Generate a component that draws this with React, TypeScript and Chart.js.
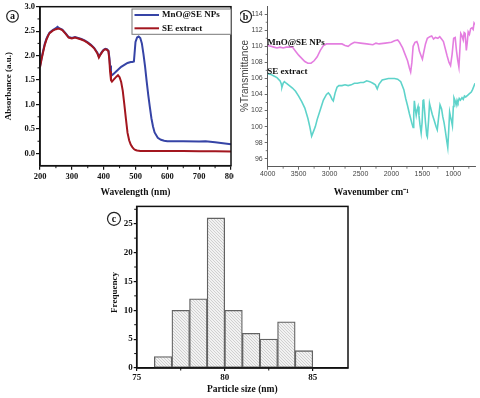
import React, { useEffect, useRef } from 'react';
import { Chart, registerables } from 'chart.js';
Chart.register(...registerables);

// ---------- Panel (a): UV-Vis absorbance ----------
const seriesNames = ['MnO@SE NPs', 'SE extract'];
const uvWavelength = [200, 205, 210, 215, 220, 225, 230, 240, 250, 255, 260, 270, 280, 290, 300, 310, 320, 330, 340, 350, 360, 370, 380, 385, 390, 395, 400, 405, 410, 415, 418, 420, 423, 426, 430, 440, 445, 450, 455, 460, 465, 470, 475, 480, 485, 490, 495, 500, 505, 510, 515, 520, 525, 530, 535, 540, 545, 550, 555, 560, 570, 580, 590, 600, 650, 700, 720, 750, 800];
const uvMnO = [1.78, 1.95, 2.10, 2.24, 2.34, 2.41, 2.47, 2.52, 2.56, 2.59, 2.56, 2.53, 2.46, 2.38, 2.36, 2.38, 2.36, 2.34, 2.31, 2.27, 2.22, 2.16, 2.06, 1.98, 2.03, 2.08, 2.12, 2.14, 2.13, 2.10, 1.96, 1.80, 1.65, 1.60, 1.62, 1.68, 1.71, 1.74, 1.77, 1.79, 1.81, 1.83, 1.85, 1.86, 1.87, 1.87, 1.88, 2.28, 2.37, 2.39, 2.36, 2.25, 2.03, 1.78, 1.48, 1.20, 0.95, 0.72, 0.55, 0.43, 0.32, 0.28, 0.26, 0.25, 0.25, 0.245, 0.25, 0.23, 0.19];
const uvSE = [1.76, 1.93, 2.08, 2.22, 2.32, 2.40, 2.46, 2.51, 2.54, 2.55, 2.55, 2.52, 2.45, 2.37, 2.35, 2.37, 2.35, 2.33, 2.30, 2.26, 2.21, 2.15, 2.05, 1.96, 2.02, 2.07, 2.11, 2.13, 2.12, 2.09, 1.90, 1.68, 1.50, 1.47, 1.50, 1.57, 1.60, 1.56, 1.46, 1.28, 1.00, 0.70, 0.42, 0.27, 0.18, 0.13, 0.09, 0.07, 0.06, 0.055, 0.05, 0.05, 0.05, 0.05, 0.05, 0.05, 0.05, 0.05, 0.05, 0.05, 0.05, 0.05, 0.05, 0.05, 0.048, 0.045, 0.045, 0.043, 0.04];
const uvXTicks = [200, 300, 400, 500, 600, 700, 800];
const uvYTicks = [0, 0.5, 1, 1.5, 2, 2.5, 3];
const uvXMinor = [250, 350, 450, 550, 650, 750];
const uvYMinor = [0.25, 0.75, 1.25, 1.75, 2.25, 2.75];

// ---------- Panel (b): FTIR ----------
const ftirMnOWavenumber = [4000, 3950, 3900, 3850, 3800, 3750, 3700, 3650, 3600, 3550, 3500, 3450, 3400, 3350, 3300, 3250, 3200, 3150, 3100, 3050, 3000, 2900, 2800, 2750, 2700, 2650, 2600, 2500, 2400, 2300, 2250, 2200, 2100, 2000, 1950, 1900, 1870, 1820, 1780, 1740, 1710, 1690, 1670, 1650, 1620, 1590, 1570, 1550, 1520, 1500, 1480, 1450, 1420, 1380, 1350, 1320, 1290, 1250, 1220, 1190, 1160, 1130, 1100, 1070, 1045, 1020, 995, 970, 950, 930, 910, 895, 880, 860, 840, 825, 810, 790, 775, 760, 740, 720, 700, 680, 665, 650];
const ftirMnOT = [110.1, 110.0, 109.9, 109.8, 109.9, 109.8, 109.9, 109.9, 109.9, 109.4, 108.9, 108.5, 108.1, 107.9, 107.9, 108.2, 108.7, 109.5, 110.1, 110.3, 110.3, 110.3, 110.3, 110.1, 110.0, 110.3, 110.5, 110.4, 110.3, 110.2, 110.4, 110.3, 110.4, 110.5, 110.7, 110.8, 110.5, 109.8, 109.0, 108.2, 107.3, 106.8, 108.0, 110.0, 110.5, 110.6, 110.2, 109.4, 108.8, 108.4, 109.2, 110.3, 111.0, 111.2, 111.3, 110.9, 111.1, 111.0, 111.2, 110.9, 110.6, 109.7, 108.8, 108.0, 107.6, 109.0, 111.0, 111.1, 109.5, 108.3, 107.4, 109.5, 111.6, 111.3, 110.8, 111.7, 111.6, 109.5, 110.5, 111.8, 111.5, 112.2, 112.3, 112.1, 112.9, 112.7];
const ftirSEWavenumber = [4000, 3950, 3900, 3850, 3800, 3780, 3770, 3750, 3730, 3700, 3650, 3600, 3550, 3500, 3450, 3400, 3350, 3320, 3290, 3260, 3230, 3200, 3150, 3100, 3050, 3020, 2990, 2960, 2940, 2910, 2880, 2850, 2800, 2750, 2700, 2650, 2600, 2550, 2500, 2450, 2400, 2350, 2300, 2260, 2230, 2200, 2150, 2100, 2050, 2000, 1950, 1900, 1850, 1800, 1770, 1740, 1710, 1690, 1670, 1650, 1640, 1630, 1615, 1600, 1585, 1570, 1555, 1540, 1520, 1505, 1490, 1480, 1465, 1450, 1430, 1420, 1400, 1385, 1370, 1340, 1310, 1280, 1260, 1240, 1215, 1190, 1170, 1150, 1130, 1110, 1090, 1075, 1060, 1045, 1030, 1015, 1000, 990, 970, 955, 940, 925, 905, 885, 860, 840, 820, 800, 770, 740, 710, 690, 670, 650];
const ftirSET = [106.6, 106.5, 106.3, 106.1, 105.7, 105.3, 104.9, 105.4, 105.6, 105.4, 105.1, 104.8, 104.4, 103.8, 103.1, 102.3, 101.0, 100.0, 98.8, 99.4, 100.0, 100.9, 102.1, 103.3, 104.0, 104.2, 103.9, 103.4, 103.2, 104.2, 104.9, 105.1, 105.1, 105.2, 105.1, 105.2, 105.4, 105.4, 105.5, 105.5, 105.7, 105.6, 105.4, 105.2, 104.7, 105.3, 105.8, 105.9, 106.0, 106.0, 106.0, 105.9, 105.6, 104.6, 103.5, 102.6, 101.6, 101.0, 100.4, 99.9, 101.5, 103.2, 102.2, 101.4, 102.1, 102.5, 101.4, 100.3, 99.2, 100.5, 103.2, 103.4, 102.0, 100.5, 98.9, 98.7, 100.8, 102.9, 102.4, 101.5, 100.8, 100.0, 99.6, 101.0, 102.7, 102.2, 101.2, 100.5, 99.5, 98.4, 97.4, 99.5, 101.8, 101.2, 100.7, 100.1, 102.5, 103.6, 103.2, 102.7, 103.3, 103.0, 103.5, 103.3, 103.6, 103.4, 103.8, 103.7, 103.9, 104.1, 104.3, 104.6, 105.0, 105.4];
const ftirXTicks = [4000, 3500, 3000, 2500, 2000, 1500, 1000];
const ftirYTicks = [96, 98, 100, 102, 104, 106, 108, 110, 112, 114];
const ftirXMinor = [3750, 3250, 2750, 2250, 1750, 1250, 750];
const ftirYMinor = [97, 99, 101, 103, 105, 107, 109, 111, 113];

// ---------- Panel (c): particle size histogram ----------
const binStart = [76, 77, 78, 79, 80, 81, 82, 83, 84];
const binCount = [2, 10, 12, 26, 10, 6, 5, 8, 3];
const histXTicks = [75, 80, 85];
const histYTicks = [0, 5, 10, 15, 20, 25];
const histXMinor = [77.5, 82.5];
const histYMinor = [2.5, 7.5, 12.5, 17.5, 22.5, 27.5];

const SERIF = '"Liberation Serif", "Times New Roman", serif';
const SANS = '"Liberation Sans", Arial, sans-serif';
const bold = (size: number) => ({ family: SERIF, weight: 'bold' as const, size });

const decorPlugin = {
  id: 'decor',
  afterDraw(chart: any, _args: any, opts: any) {
    const ctx = chart.ctx as CanvasRenderingContext2D;
    const a = chart.chartArea;
    ctx.save();
    if (opts.frame) {
      ctx.strokeStyle = opts.frame.color;
      ctx.lineWidth = opts.frame.width;
      ctx.strokeRect(a.left, a.top, a.right - a.left, a.bottom - a.top);
    }
    for (const m of opts.minor || []) {
      const s = chart.scales[m.axis];
      ctx.strokeStyle = m.color;
      ctx.lineWidth = m.width;
      for (const v of m.values) {
        const p = s.getPixelForValue(v);
        ctx.beginPath();
        if (m.axis === 'x') {
          ctx.moveTo(p, a.bottom);
          ctx.lineTo(p, a.bottom + m.len);
        } else {
          ctx.moveTo(a.left, p);
          ctx.lineTo(a.left - m.len, p);
        }
        ctx.stroke();
      }
    }
    if (opts.legend) {
      const L = opts.legend;
      const x0 = a.right - L.width;
      const y0 = a.top + L.top;
      ctx.fillStyle = '#fff';
      ctx.fillRect(x0, y0, L.width, L.height);
      ctx.strokeStyle = L.border;
      ctx.lineWidth = 1;
      ctx.strokeRect(x0, y0, L.width, L.height);
      ctx.font = `bold ${L.fontSize}px ${SERIF}`;
      ctx.textBaseline = 'middle';
      ctx.textAlign = 'left';
      chart.data.datasets.forEach((ds: any, i: number) => {
        const yy = y0 + L.rowTop + i * L.rowGap;
        ctx.strokeStyle = ds.borderColor;
        ctx.lineWidth = 2;
        ctx.beginPath();
        ctx.moveTo(x0 + 2.5, yy);
        ctx.lineTo(x0 + 27, yy);
        ctx.stroke();
        ctx.fillStyle = '#111';
        ctx.fillText(ds.label, x0 + 30, yy);
      });
    }
    if (opts.seriesText) {
      ctx.font = `bold 9px ${SERIF}`;
      ctx.textBaseline = 'middle';
      ctx.textAlign = 'left';
      ctx.fillStyle = '#111';
      for (const t of opts.seriesText) {
        const y = chart.scales.y.getPixelForValue(t.value);
        ctx.fillText(chart.data.datasets[t.dataset].label, a.left - 0.5, y);
      }
    }
    for (const t of opts.texts || []) {
      ctx.save();
      ctx.translate(t.x, t.y);
      ctx.rotate(t.rot || 0);
      ctx.font = t.font;
      ctx.fillStyle = t.color;
      ctx.textAlign = 'center';
      ctx.textBaseline = 'middle';
      ctx.fillText(t.text, 0, 0);
      ctx.restore();
    }
    if (opts.badge) {
      const b = opts.badge;
      ctx.beginPath();
      ctx.arc(b.x, b.y, b.r, 0, Math.PI * 2);
      ctx.strokeStyle = '#222';
      ctx.lineWidth = 1.2;
      ctx.stroke();
      ctx.font = `bold 10px ${SERIF}`;
      ctx.fillStyle = '#111';
      ctx.textAlign = 'center';
      ctx.textBaseline = 'middle';
      ctx.fillText(b.text, b.x, b.y + 0.5);
    }
    ctx.restore();
  },
};

const fixTicks = (vals: number[]) => (s: any) => {
  s.ticks = vals.map((value) => ({ value }));
};

function makeHatch(): CanvasPattern | string {
  const c = document.createElement('canvas');
  const n = 3;
  c.width = n;
  c.height = n;
  const g = c.getContext('2d');
  if (!g) return '#ececec';
  g.fillStyle = '#f2f2f2';
  g.fillRect(0, 0, n, n);
  g.strokeStyle = '#c2c2c2';
  g.lineWidth = 0.7;
  g.beginPath();
  g.moveTo(0, 0);
  g.lineTo(n, n);
  g.moveTo(-1, n - 1);
  g.lineTo(1, n + 1);
  g.moveTo(n - 1, -1);
  g.lineTo(n + 1, 1);
  g.stroke();
  const p = g.createPattern(c, 'repeat');
  return p || '#ececec';
}

export default function App() {
  const refA = useRef<HTMLCanvasElement>(null);
  const refB = useRef<HTMLCanvasElement>(null);
  const refC = useRef<HTMLCanvasElement>(null);

  useEffect(() => {
    document.body.style.margin = '0';
    const charts: Chart[] = [];
    const BLACK = '#111';

    // ---- Panel a ----
    charts.push(
      new Chart(refA.current as HTMLCanvasElement, {
        type: 'line',
        data: {
          datasets: [
            { label: seriesNames[0], data: uvWavelength.map((x, i) => ({ x, y: uvMnO[i] })), borderColor: '#3644a6', borderWidth: 2, pointRadius: 0, order: 2 },
            { label: seriesNames[1], data: uvWavelength.map((x, i) => ({ x, y: uvSE[i] })), borderColor: '#a3161f', borderWidth: 2, pointRadius: 0, order: 1 },
          ],
        },
        options: {
          animation: false,
          responsive: false,
          events: [],
          layout: { padding: { left: 0, top: 6.7, right: 9, bottom: 0 } },
          plugins: {
            legend: { display: false },
            tooltip: { enabled: false },
            decor: {
              frame: { color: BLACK, width: 1.5 },
              minor: [
                { axis: 'x', values: uvXMinor, len: 2.5, color: BLACK, width: 1 },
                { axis: 'y', values: uvYMinor, len: 2.5, color: BLACK, width: 1 },
              ],
              legend: { width: 99, height: 25.3, top: 2.3, rowTop: 6, rowGap: 13.3, fontSize: 9, border: '#777' },
              badge: { x: 12.5, y: 16.3, r: 5.8, text: 'a' },
            },
          } as any,
          scales: {
            x: {
              type: 'linear', min: 200, max: 800,
              afterBuildTicks: fixTicks(uvXTicks),
              afterFit: (s: any) => { s.height = 34.3; },
              ticks: { font: bold(8.5), color: BLACK, padding: 2, maxRotation: 0, autoSkip: false, callback: (v: any) => String(v) },
              grid: { drawOnChartArea: false, tickLength: 4, color: BLACK, lineWidth: 1.2 },
              border: { color: BLACK, width: 1.5 },
              title: { display: true, text: 'Wavelength (nm)', font: bold(9.5), color: BLACK, padding: { top: 0, bottom: 1.6 } },
            },
            y: {
              type: 'linear', min: -0.25, max: 3.0,
              afterBuildTicks: fixTicks(uvYTicks),
              afterFit: (s: any) => { s.width = 40; },
              ticks: { font: bold(8.5), color: BLACK, padding: 1, autoSkip: false, callback: (v: any) => Number(v).toFixed(1) },
              grid: { drawOnChartArea: false, tickLength: 4, color: BLACK, lineWidth: 1.2 },
              border: { color: BLACK, width: 1.5 },
              title: { display: true, text: 'Absorbance (a.u.)', font: bold(9), color: BLACK, padding: { top: 2.9, bottom: 0 } },
            },
          },
        },
        plugins: [decorPlugin],
      } as any)
    );

    // ---- Panel b ----
    const GRAY = '#5a5a5a';
    charts.push(
      new Chart(refB.current as HTMLCanvasElement, {
        type: 'line',
        data: {
          datasets: [
            { label: seriesNames[0], data: ftirMnOWavenumber.map((x, i) => ({ x, y: ftirMnOT[i] })), borderColor: '#e47ee0', borderWidth: 1.6, pointRadius: 0 },
            { label: seriesNames[1], data: ftirSEWavenumber.map((x, i) => ({ x, y: ftirSET[i] })), borderColor: '#5ed3ca', borderWidth: 1.6, pointRadius: 0 },
          ],
        },
        options: {
          animation: false,
          responsive: false,
          events: [],
          layout: { padding: { left: 0, top: 5, right: 5, bottom: 0 } },
          plugins: {
            legend: { display: false },
            tooltip: { enabled: false },
            decor: {
              minor: [
                { axis: 'x', values: ftirXMinor, len: 2, color: GRAY, width: 0.8 },
                { axis: 'y', values: ftirYMinor, len: 2, color: GRAY, width: 0.8 },
              ],
              seriesText: [
                { dataset: 0, value: 110.5 },
                { dataset: 1, value: 106.9 },
              ],
              texts: [
                { text: '%Transmittance', x: 5, y: 76, rot: -Math.PI / 2, font: `10px ${SANS}`, color: '#444' },
              ],
              badge: { x: 5.5, y: 16.5, r: 6, text: 'b' },
            },
          } as any,
          scales: {
            x: {
              type: 'linear', min: 650, max: 4000, reverse: true,
              afterBuildTicks: fixTicks(ftirXTicks),
              afterFit: (s: any) => { s.height = 33.3; },
              ticks: { font: { family: SANS, size: 7 }, color: '#444', padding: 0, maxRotation: 0, autoSkip: false, callback: (v: any) => String(v) },
              grid: { drawOnChartArea: false, tickLength: 3, color: GRAY, lineWidth: 0.9 },
              border: { color: GRAY, width: 1 },
              title: { display: true, text: 'Wavenumber cm⁻¹', font: bold(9.5), color: BLACK, padding: { top: 0, bottom: 1.3 } },
            },
            y: {
              type: 'linear', min: 95, max: 115,
              afterBuildTicks: fixTicks(ftirYTicks),
              afterFit: (s: any) => { s.width = 27.7; },
              ticks: { font: { family: SANS, size: 7 }, color: '#444', padding: 2, autoSkip: false, callback: (v: any) => String(v) },
              grid: { drawOnChartArea: false, tickLength: 3, color: GRAY, lineWidth: 0.9 },
              border: { color: GRAY, width: 1 },
            },
          },
        },
        plugins: [decorPlugin],
      } as any)
    );

    // ---- Panel c ----
    const hatch = makeHatch();
    charts.push(
      new Chart(refC.current as HTMLCanvasElement, {
        type: 'bar',
        data: {
          datasets: [
            {
              label: 'Frequency',
              data: binStart.map((s, i) => ({ x: s + 0.5, y: binCount[i] })),
              backgroundColor: hatch,
              borderColor: '#626262',
              borderWidth: 1.3,
              borderSkipped: false,
              barPercentage: 1,
              categoryPercentage: 1,
            },
          ],
        },
        options: {
          animation: false,
          responsive: false,
          events: [],
          layout: { padding: { left: 0, top: 5, right: 42, bottom: 0 } },
          plugins: {
            legend: { display: false },
            tooltip: { enabled: false },
            decor: {
              frame: { color: BLACK, width: 1.5 },
              minor: [
                { axis: 'x', values: histXMinor, len: 2.5, color: BLACK, width: 1 },
                { axis: 'y', values: histYMinor, len: 2.5, color: BLACK, width: 1 },
              ],
              texts: [
                { text: 'Frequency', x: 25, y: 92.5, rot: -Math.PI / 2, font: `bold 9px ${SERIF}`, color: BLACK },
              ],
              badge: { x: 24, y: 18.8, r: 6.5, text: 'c' },
            },
          } as any,
          scales: {
            x: {
              type: 'linear', min: 75, max: 87, offset: false,
              afterBuildTicks: fixTicks(histXTicks),
              afterFit: (s: any) => { s.height = 30; },
              ticks: { font: bold(9), color: BLACK, padding: 1, maxRotation: 0, autoSkip: false, callback: (v: any) => String(v) },
              grid: { drawOnChartArea: false, offset: false, tickLength: 3, color: BLACK, lineWidth: 1.2 },
              border: { color: BLACK, width: 1.5 },
              title: { display: true, text: 'Particle size (nm)', font: bold(9.5), color: BLACK, padding: { top: 0, bottom: 2.3 } },
            },
            y: {
              type: 'linear', min: 0, max: 28,
              afterBuildTicks: fixTicks(histYTicks),
              afterFit: (s: any) => { s.width = 46.7; },
              ticks: { font: bold(9), color: BLACK, padding: 1, autoSkip: false, callback: (v: any) => String(v) },
              grid: { drawOnChartArea: false, tickLength: 3, color: BLACK, lineWidth: 1.2 },
              border: { color: BLACK, width: 1.5 },
            },
          },
        },
        plugins: [decorPlugin],
      } as any)
    );

    return () => charts.forEach((c) => c.destroy());
  }, []);

  return (
    <div style={{ position: 'relative', width: 480, height: 398, background: '#fff', overflow: 'hidden' }}>
      <div style={{ position: 'absolute', left: 0, top: 0, width: 234, height: 200, overflow: 'hidden' }}>
        <canvas ref={refA} width={240} height={200} style={{ display: 'block' }} />
      </div>
      <canvas ref={refB} width={240} height={200} style={{ position: 'absolute', left: 240, top: 0, display: 'block' }} />
      <canvas ref={refC} width={300} height={198} style={{ position: 'absolute', left: 90, top: 200, display: 'block' }} />
    </div>
  );
}
